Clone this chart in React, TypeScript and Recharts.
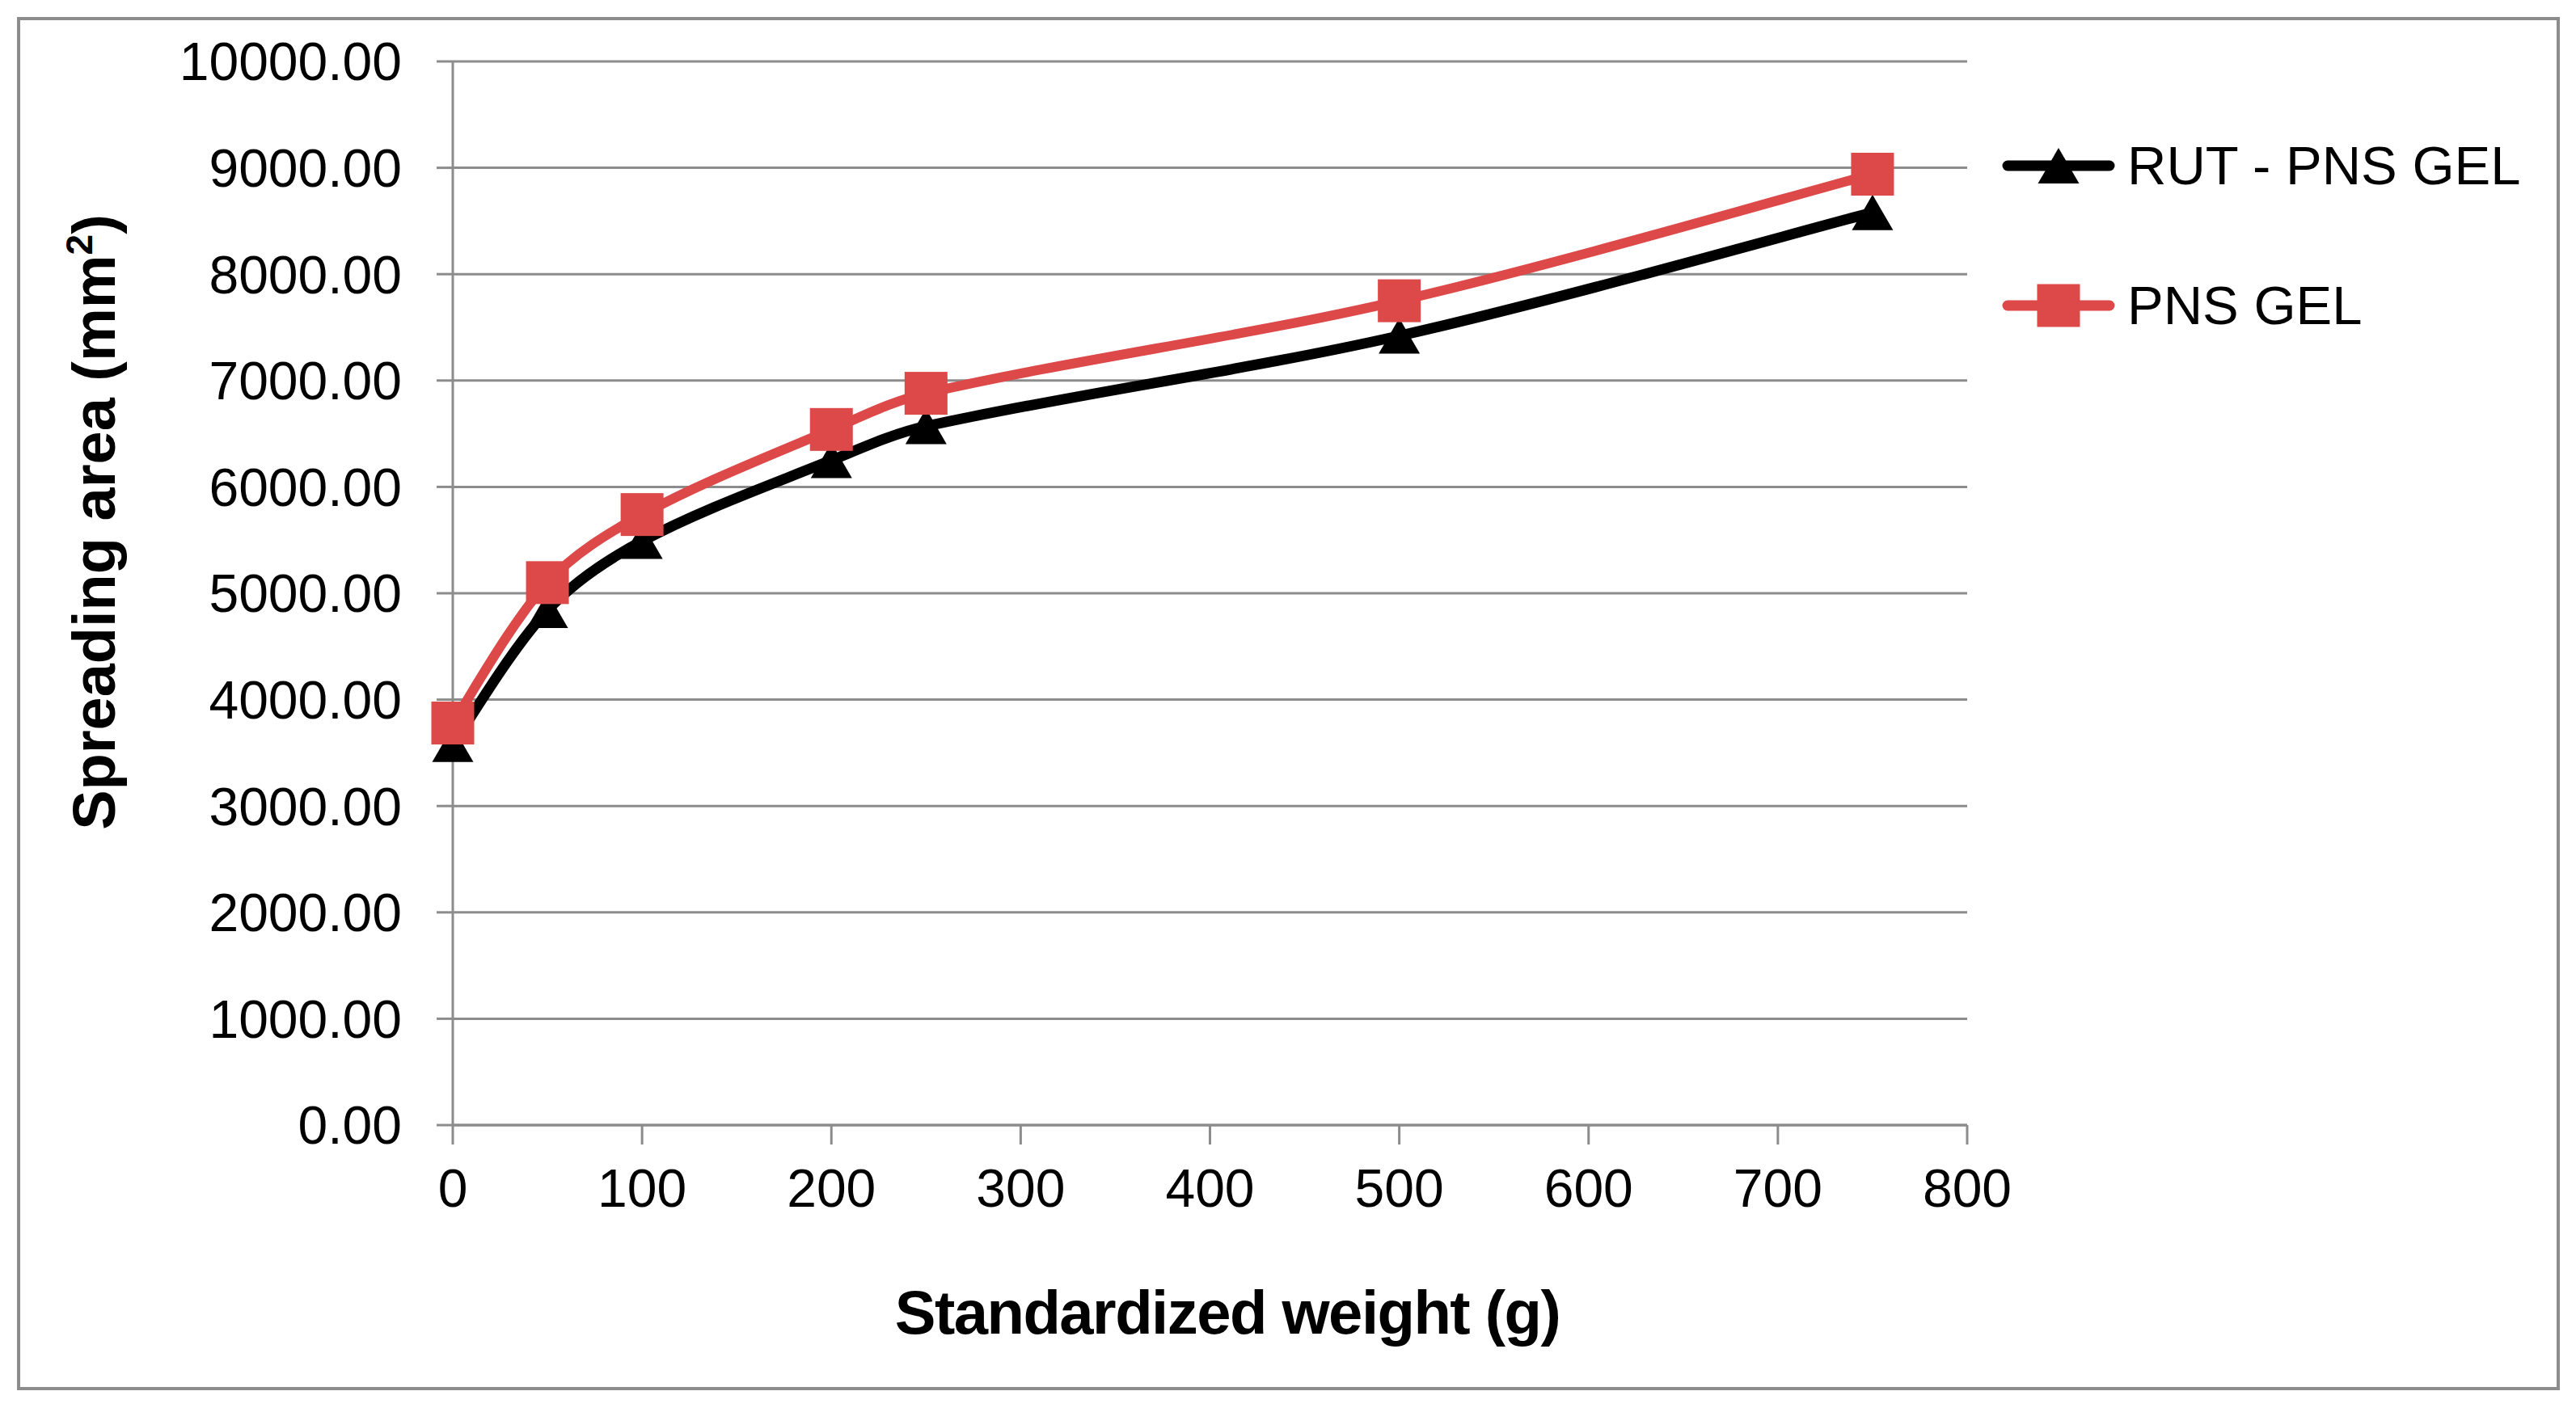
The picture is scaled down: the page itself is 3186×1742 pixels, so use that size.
import { LineChart, Line, XAxis, YAxis, CartesianGrid, Legend } from 'recharts'

const weights = [0, 50, 100, 200, 250, 500, 750]
const rutPnsGel = [3580, 4840, 5490, 6250, 6570, 7420, 8580]
const pnsGel = [3780, 5100, 5740, 6540, 6880, 7750, 8940]
const xTicks = [0, 100, 200, 300, 400, 500, 600, 700, 800]
const yTicks = [0, 1000, 2000, 3000, 4000, 5000, 6000, 7000, 8000, 9000, 10000]
const seriesNames = ['RUT - PNS GEL', 'PNS GEL']

const data = weights.map((w, i) => ({ weight: w, rut: rutPnsGel[i], pns: pnsGel[i] }))

const FONT = "'Liberation Sans', Arial, sans-serif"
const GRID = '#8c8c8c'
const BLACK = '#000000'
const RED = '#dd4848'

// spreadsheet-style smoothed line; control arms scaled to the length of each segment
const smoothCurve = (context: any) => {
  let pts: number[][] = []
  const dist = (a: number[], b: number[]) => Math.hypot(b[0] - a[0], b[1] - a[1])
  return {
    areaStart() {},
    areaEnd() {},
    lineStart() {
      pts = []
    },
    point(x: number, y: number) {
      pts.push([+x, +y])
    },
    lineEnd() {
      const n = pts.length
      if (!n) return
      // arms[i] = [backward arm, forward arm] at point i
      const arms = pts.map((p, i) => {
        const prev = pts[i - 1] || p
        const next = pts[i + 1] || p
        const d1 = i > 0 ? dist(prev, p) : dist(p, next)
        const d2 = i < n - 1 ? dist(p, next) : dist(prev, p)
        const tx = next[0] - prev[0]
        const ty = next[1] - prev[1]
        const s = d1 + d2 || 1
        return [
          [p[0] - (tx * d1) / s / 3, p[1] - (ty * d1) / s / 3],
          [p[0] + (tx * d2) / s / 3, p[1] + (ty * d2) / s / 3],
        ]
      })
      context.moveTo(pts[0][0], pts[0][1])
      for (let i = 0; i < n - 1; i++) {
        const c1 = arms[i][1]
        const c2 = arms[i + 1][0]
        context.bezierCurveTo(c1[0], c1[1], c2[0], c2[1], pts[i + 1][0], pts[i + 1][1])
      }
    },
  }
}

const Triangle = (props: any) => {
  const { cx, cy, index } = props
  if (cx == null || cy == null) return null
  return (
    <polygon
      key={`tri-${index}`}
      points={`${cx},${cy - 22} ${cx + 25.5},${cy + 22} ${cx - 25.5},${cy + 22}`}
      fill={BLACK}
    />
  )
}

const Square = (props: any) => {
  const { cx, cy, index } = props
  if (cx == null || cy == null) return null
  return <rect key={`sq-${index}`} x={cx - 26.5} y={cy - 26.5} width={53} height={53} fill={RED} />
}

const renderLegend = () => (
  <div style={{ position: 'relative', width: 700, height: 300 }}>
    {seriesNames.map((name, i) => {
      const color = i === 0 ? BLACK : RED
      return (
        <div
          key={name}
          style={{ position: 'absolute', left: 0, top: i === 0 ? 35 : 208, height: 60, display: 'flex', alignItems: 'center' }}
        >
          <svg width={140} height={60}>
            <line x1={7} x2={133} y1={30} y2={30} stroke={color} strokeWidth={13} strokeLinecap="round" />
            {i === 0 ? (
              <polygon points="70,8 95.5,52 44.5,52" fill={BLACK} />
            ) : (
              <rect x={43.5} y={3.5} width={53} height={53} fill={RED} />
            )}
          </svg>
          <span style={{ marginLeft: 15, fontSize: 67, fontFamily: FONT, color: '#000', lineHeight: '60px', whiteSpace: 'nowrap' }}>
            {name}
          </span>
        </div>
      )
    })}
  </div>
)

export default function App() {
  return (
    <div style={{ position: 'absolute', left: 0, top: 0, width: 3186, height: 1742, background: '#fff' }}>
      <div
        style={{
          position: 'absolute',
          left: 21,
          top: 21,
          width: 3145,
          height: 1699,
          border: `4px solid ${GRID}`,
          boxSizing: 'border-box',
        }}
      />
      <div style={{ position: 'absolute', left: 0, top: 0 }}>
        <LineChart width={3186} height={1742} data={data} margin={{ top: 76, right: 753, left: 260, bottom: 150 }}>
          <CartesianGrid vertical={false} stroke={GRID} strokeWidth={3} />
          <XAxis
            dataKey="weight"
            type="number"
            domain={[0, 800]}
            ticks={xTicks}
            height={200}
            tickSize={24}
            tickMargin={30}
            axisLine={{ stroke: GRID, strokeWidth: 3 }}
            tickLine={{ stroke: GRID, strokeWidth: 3 }}
            tick={{ fill: '#000', fontSize: 66, fontFamily: FONT }}
            label={{
              content: () => (
                <text x={1518} y={1650} textAnchor="middle" fontFamily={FONT} fontWeight="bold" fontSize={76} letterSpacing={-1.5} fill="#000">
                  Standardized weight (g)
                </text>
              ),
            }}
          />
          <YAxis
            type="number"
            domain={[0, 10000]}
            ticks={yTicks}
            width={300}
            tickSize={20}
            tickMargin={43}
            interval={0}
            tickFormatter={(v: number) => v.toFixed(2)}
            axisLine={{ stroke: GRID, strokeWidth: 3 }}
            tickLine={{ stroke: GRID, strokeWidth: 3 }}
            tick={{ fill: '#000', fontSize: 66, fontFamily: FONT }}
            label={{
              content: () => (
                <text
                  x={142}
                  y={646}
                  transform="rotate(-90 142 646)"
                  textAnchor="middle"
                  fontFamily={FONT}
                  fontWeight="bold"
                  fontSize={74}
                  fill="#000"
                >
                  Spreading area (mm
                  <tspan fontSize={46} dy={-28}>2</tspan>
                  <tspan dy={28}>)</tspan>
                </text>
              ),
            }}
          />
          <Legend layout="vertical" align="center" verticalAlign="middle" wrapperStyle={{ left: 2476, top: 140, width: 700, height: 300 }} content={renderLegend} />
          <Line
            name={seriesNames[0]}
            dataKey="rut"
            type={smoothCurve as any}
            stroke={BLACK}
            strokeWidth={13}
            dot={Triangle}
            activeDot={false}
            isAnimationActive={false}
          />
          <Line
            name={seriesNames[1]}
            dataKey="pns"
            type={smoothCurve as any}
            stroke={RED}
            strokeWidth={12}
            dot={Square}
            activeDot={false}
            isAnimationActive={false}
          />
        </LineChart>
      </div>
    </div>
  )
}
